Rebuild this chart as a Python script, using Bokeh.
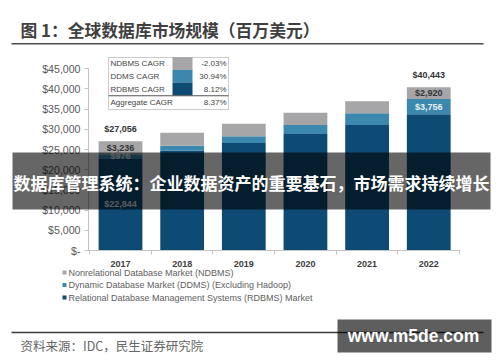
from bokeh.plotting import figure
from bokeh.models import (Range1d, FixedTicker, CustomJSTickFormatter, Label,
                          BoxAnnotation, ColumnDataSource)
from bokeh.core.properties import value
from bokeh.embed import file_html
from bokeh.resources import INLINE

# ---------------- data ----------------
years = ["2017", "2018", "2019", "2020", "2021", "2022"]
rdbms = [22844, 24680, 26600, 28850, 31100, 33767]
ddms = [976, 1280, 1670, 2200, 2870, 3756]
ndbms = [3236, 3170, 3100, 3040, 2980, 2920]
y_ticks = [0, 5000, 10000, 15000, 20000, 25000, 30000, 35000, 40000, 45000]
labelled_years = ["2017", "2022"]
cagr_names = ["NDBMS CAGR", "DDMS CAGR", "RDBMS CAGR", "Aggregate CAGR"]
cagr_values = ["-2.03%", "30.94%", "8.12%", "8.37%"]
series_names = ["Nonrelational Database Market (NDBMS)",
                "Dynamic Database Market (DDMS) (Excluding Hadoop)",
                "Relational Database Management Systems (RDBMS) Market"]
title_text = "图 1：全球数据库市场规模（百万美元）"
source_text = "资料来源：IDC，民生证券研究院"
banner_text = "数据库管理系统：企业数据资产的重要基石，市场需求持续增长"
watermark_text = "www.m5de.com"

# ---------------- styles / layout ----------------
C_RD, C_DD, C_ND = "#0e4b74", "#3b87ad", "#a6a6a9"
FONT = "Liberation Sans"
CJK = "Noto Sans CJK SC"

W, H = 500, 362
PX_UNIT = 61.65            # pixels per category step
X_FIRST = 120              # pixel centre of first bar
Y_BASE = 250               # pixel row of value 0
PX_VAL = 0.004038          # pixels per value unit
X0 = -X_FIRST / PX_UNIT
X1 = X0 + W / PX_UNIT
Y1 = Y_BASE / PX_VAL
Y0 = -(H - Y_BASE) / PX_VAL


def xd(px):
    return X0 + px / PX_UNIT


def yd(py):
    return (Y_BASE - py) / PX_VAL


p = figure(width=W, height=H, x_range=Range1d(X0, X1), y_range=Range1d(Y0, Y1),
           output_backend="svg", toolbar_location=None,
           min_border=0, min_border_left=0, min_border_right=0,
           min_border_top=0, min_border_bottom=0)
p.background_fill_color = "white"
p.border_fill_color = "white"
p.outline_line_color = None
p.xgrid.visible = False
p.ygrid.visible = False

xs = list(range(len(years)))
totals = [a + b + c for a, b, c in zip(rdbms, ddms, ndbms)]
src = ColumnDataSource(dict(x=xs, rdbms=rdbms, ddms=ddms, ndbms=ndbms))
p.vbar_stack(["rdbms", "ddms", "ndbms"], x="x", width=0.71, source=src,
             color=[C_RD, C_DD, C_ND], line_color=None)

# value labels for the first and last year
idx = [years.index(y) for y in labelled_years]
lx = [xs[i] for i in idx]
common = dict(text_font=value(FONT), text_font_style="bold", text_font_size="9px",
              text_align="center", text_baseline="middle")
p.text(x=lx, y=[totals[i] + 3000 for i in idx], text=[f"${totals[i]:,}" for i in idx],
       text_color="#333333", **common)
p.text(x=lx, y=[rdbms[i] + ddms[i] + ndbms[i] / 2 for i in idx],
       text=[f"${ndbms[i]:,}" for i in idx], text_color="#333333", **common)
p.text(x=lx, y=[rdbms[i] + ddms[i] / 2 for i in idx],
       text=[f"${ddms[i]:,}" for i in idx], text_color="#e8f0f6", **common)
p.text(x=[lx[0]], y=[rdbms[idx[0]] / 2], text=[f"${rdbms[idx[0]]:,}"],
       text_color="#d8e2ec", **common)

# axes (fixed inside the full-canvas frame)
ya = p.yaxis[0]
ya.fixed_location = xd(88)
ya.bounds = (y_ticks[0], y_ticks[-1])
ya.ticker = FixedTicker(ticks=y_ticks)
ya.formatter = CustomJSTickFormatter(
    code="return tick == 0 ? '$-' : '$' + tick.toLocaleString('en-US');")
ya.major_label_text_font = FONT
ya.major_label_text_font_size = "10.6px"
ya.major_label_text_color = "#595959"
ya.axis_line_color = "#c4c4c4"
ya.major_tick_line_color = "#c4c4c4"
ya.major_tick_out = 4
ya.major_tick_in = 0
ya.minor_tick_line_color = None
ya.major_label_standoff = 4

xa = p.xaxis[0]
xa.fixed_location = 0
xa.bounds = (xs[0] - 0.55, xs[-1] + 0.52)
xa.ticker = FixedTicker(ticks=xs, minor_ticks=[x - 0.5 for x in xs] + [xs[-1] + 0.5])
xa.major_label_overrides = {x: y for x, y in zip(xs, years)}
xa.major_label_text_font = FONT
xa.major_label_text_font_style = "bold"
xa.major_label_text_font_size = "9px"
xa.major_label_text_color = "#404040"
xa.axis_line_color = "#c4c4c4"
xa.major_tick_line_color = None
xa.minor_tick_line_color = "#c4c4c4"
xa.minor_tick_out = 4
xa.minor_tick_in = 0
xa.major_label_standoff = 4


def lab(px, py, text, size, color, bold=False, align="left", font=FONT, level="annotation"):
    p.add_layout(Label(x=xd(px), y=yd(py), text=text, text_font=font,
                       text_font_size=f"{size}px", text_color=color,
                       text_font_style="bold" if bold else "normal",
                       text_align=align, text_baseline="middle", level=level))


def box(l, r, t, b, color, alpha=1.0, line=None, level="annotation"):
    p.add_layout(BoxAnnotation(left=xd(l), right=xd(r), top=yd(t), bottom=yd(b),
                               fill_color=color, fill_alpha=alpha,
                               line_color=line, line_width=1, level=level))


# title and rules
lab(20, 29, title_text, 16.8, "#3f3f3f", bold=True, font=CJK)
box(11, 483, 42.5, 44, "#4a4a4a")

# CAGR table
row_y = [63, 76, 88.5, 102]
sw_edges = [57, 69.5, 82, 95]
sw_cols = [C_ND, C_DD, C_RD]
for i in range(3):
    box(172, 192, sw_edges[i], sw_edges[i + 1], sw_cols[i])
box(108, 228, 57, 109, None, 0.0, line="#555555")
box(108, 228, 94.7, 95.7, "#555555")
for name, val, yy in zip(cagr_names, cagr_values, row_y):
    lab(110, yy, name, 8, "#444444")
    lab(226, yy, val, 8, "#444444", align="right")

# bottom legend
leg_y = [272, 284.5, 297]
for name, col, yy in zip(series_names, [C_ND, C_DD, C_RD], leg_y):
    box(62, 66, yy - 2, yy + 2, col)
    lab(68, yy, name, 9, "#606060")

# bottom rule and source
box(11, 483, 331.3, 332.8, "#3a3a3a")
lab(20, 345, source_text, 12.5, "#666666", font=CJK)

# overlay banner
box(12, 490, 152, 209, "#000000", 0.6, level="overlay")
lab(251, 182, banner_text, 17, "#ffffff", bold=True, align="center", font=CJK, level="overlay")

# watermark
box(337, 491, 319, 352, "#000000", 0.63, level="overlay")
lab(413, 335.5, watermark_text, 17.5, "#ffffff", bold=True, align="center", level="overlay")

open("out.html", "w").write(file_html(p, INLINE))
